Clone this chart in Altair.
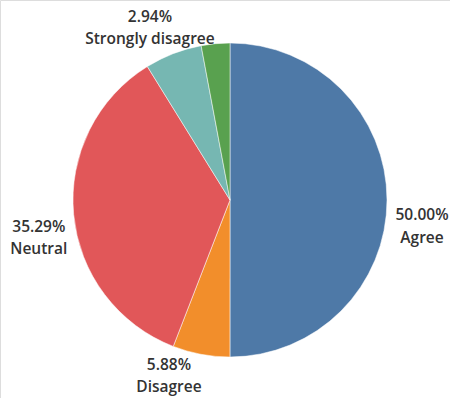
import altair as alt
import pandas as pd

categories = ["Agree", "Disagree", "Neutral", "Strongly agree", "Strongly disagree"]
percents = [50.00, 5.88, 35.29, 5.88, 2.94]
colors = ["#4e79a7", "#f28e2b", "#e15759", "#76b7b2", "#59a14f"]

df = pd.DataFrame({
    "category": categories,
    "pct": percents,
    "order": list(range(len(categories))),
})

CX, CY = 230, 200

base = alt.Chart(df).encode(
    theta=alt.Theta("pct:Q", stack=True),
    order=alt.Order("order:Q"),
    x=alt.value(CX),
    y=alt.value(CY),
)

pie = base.mark_arc(radius=157, stroke="white", strokeWidth=0.5).encode(
    color=alt.Color("category:N", scale=alt.Scale(domain=categories, range=colors), legend=None)
)

label_base = base.transform_calculate(
    label="format(datum.pct, '.2f') + '%\\n' + datum.category"
)

def text_layer(cats, radius, dx, dy):
    return label_base.mark_text(
        radius=radius, dx=dx, dy=dy, lineBreak="\n", font="Open Sans",
        fontSize=15.5, fontWeight=600, color="#333333", lineHeight=22.5,
        align="center", baseline="middle",
    ).encode(
        text="label:N",
        opacity=alt.condition(alt.FieldOneOfPredicate(field="category", oneOf=cats), alt.value(1), alt.value(0)),
    )

t_agree = text_layer(["Agree"], 192, 0, 15)
t_neutral = text_layer(["Neutral"], 192, 0, 9)
t_dis = text_layer(["Disagree"], 185, -27, -17)
t_sd = text_layer(["Strongly disagree"], 185, -63, 1)

chart = alt.layer(pie, t_agree, t_neutral, t_dis, t_sd).properties(
    width=450, height=398, padding=0, autosize=alt.AutoSizeParams(type="none")
).configure_view(stroke=None).configure(background="white")

chart.save("out.html", embed_options={"renderer": "svg", "actions": False})
